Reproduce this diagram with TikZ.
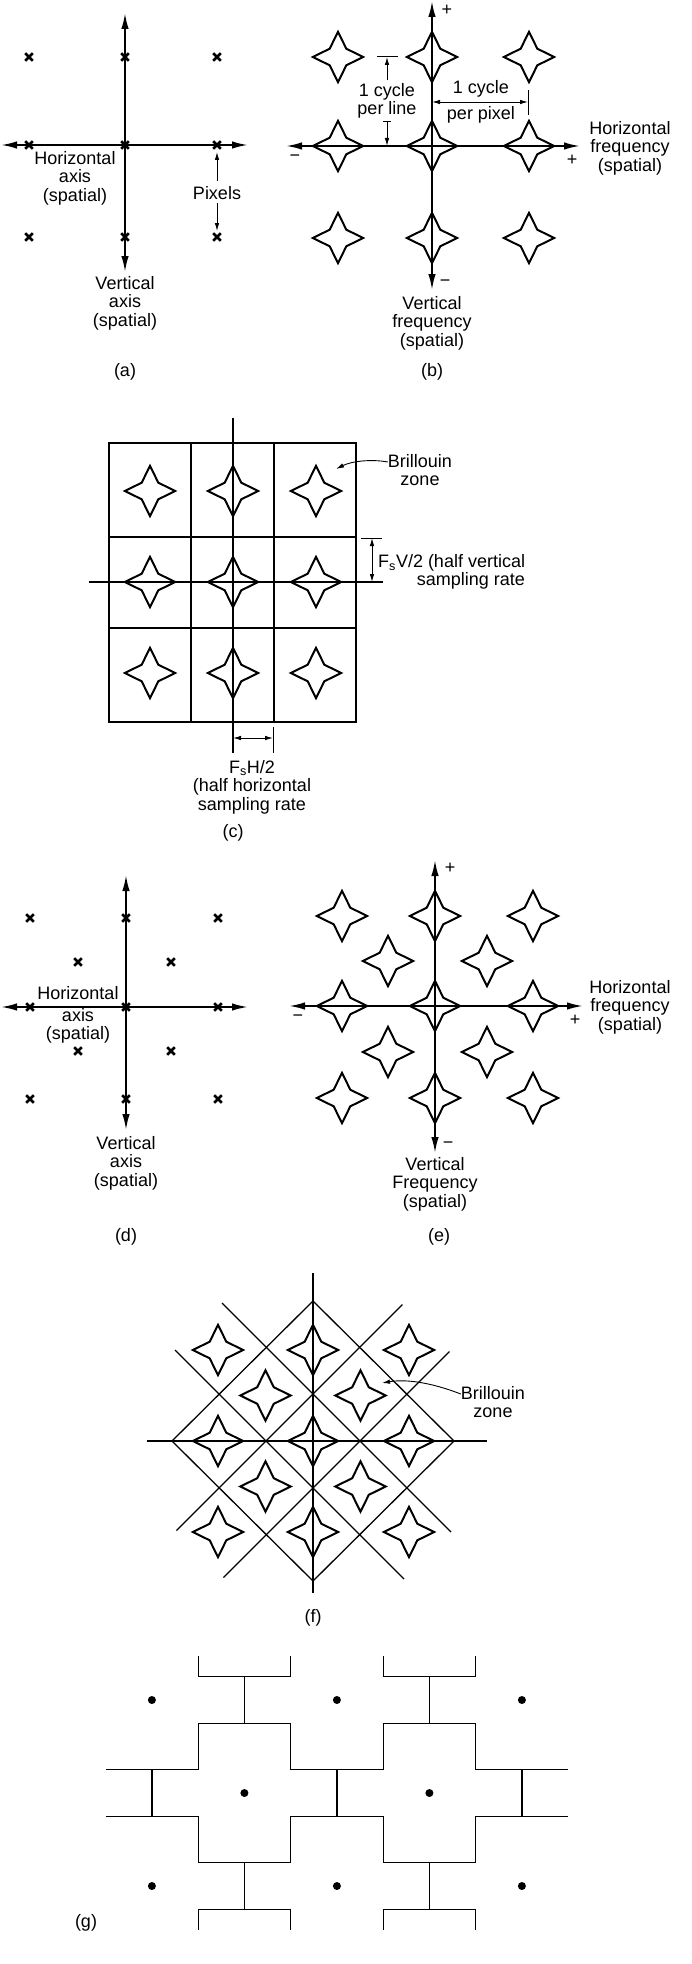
\documentclass[tikz,border=0pt]{standalone}
\usepackage{fontspec}
\setmainfont{Liberation Sans}
\usetikzlibrary{arrows.meta}
\begin{document}
\begin{tikzpicture}[x=1pt,y=-1pt,
  lbl/.style={font=\fontsize{18}{18.4}\selectfont, align=center, inner sep=0pt},
  axisl/.style={line width=1.9pt},
  both/.style={{Latex[length=16pt,width=7.5pt]}-{Latex[length=16pt,width=7.5pt]}},
  smallarr/.style={line width=0.9pt,-{Latex[length=8pt,width=4.5pt]}},
  smallboth/.style={line width=0.9pt,{Latex[length=8pt,width=4.5pt]}-{Latex[length=8pt,width=4.5pt]}},
  gridl/.style={line width=1.3pt},
  tick/.style={line width=1pt},
  starshape/.pic={\draw[line width=2pt, line join=miter, miter limit=10]
     (25.2,0) -- (8.3,8.3) -- (0,25.2) -- (-8.3,8.3) -- (-25.2,0) -- (-8.3,-8.3) -- (0,-25.2) -- (8.3,-8.3) -- cycle;},
  xmark/.pic={\draw[line width=2.6pt] (-3.8,-3.8) -- (3.8,3.8) (-3.8,3.8) -- (3.8,-3.8);}
]
\useasboundingbox (0,0) rectangle (691,1964);

% ---------------- (a)
\draw[axisl,both] (1,145) -- (248,145);
\draw[axisl,both] (125,13) -- (125,272);
\foreach \x in {29,125,217} \foreach \y in {57,145,237} \pic at (\x,\y) {xmark};
\node[lbl] (ha) at (75,178) {Horizontal\\axis\\(spatial)};
\node[lbl] (pix) at (217,193) {Pixels};
\coordinate (pixtop) at (217,152);
\coordinate (pixbot) at (217,231);
\draw[smallarr] ([yshift=5pt]pix.north) -- (pixtop);
\draw[smallarr] ([yshift=-3pt]pix.south) -- (pixbot);
\node[lbl] (va) at (125,303) {Vertical\\axis\\(spatial)};
\node[lbl] (la) at (125,372) {(a)};

% ---------------- (b)
\draw[axisl,both] (286,146) -- (580,146);
\draw[axisl,both] (432,1) -- (432,290);
\foreach \x in {338,432,529} \foreach \y in {57,146,238} \pic at (\x,\y) {starshape};
\node[lbl] (bpt) at (447,10) {+};
\node[lbl] (bmb) at (445,283) {−};
\node[lbl] (bml) at (295,158) {−};
\node[lbl] (bpr) at (572,160) {+};
\draw[tick] (377,57) -- (398,57);
\draw[tick] (383,122) -- (391,122);
\node[lbl] (cpl) at (387,101) {1 cycle\\per line};
\coordinate (cplt) at (387,57);
\coordinate (cplb) at (387,146);
\draw[smallarr] ([yshift=3pt]cpl.north) -- (cplt);
\draw[smallarr] (387,122) -- (cplb);
\draw[tick] (528,90) -- (528,115);
\coordinate (cppa) at (432,102);
\coordinate (cppb) at (528,102);
\draw[smallboth] (cppa) -- (cppb);
\node[lbl] (cpp1) at (481,89) {1 cycle};
\node[lbl] (cpp2) at (481,115) {per pixel};
\node[lbl] (hb) at (630,148) {Horizontal\\frequency\\(spatial)};
\node[lbl] (vb) at (432,323) {Vertical\\frequency\\(spatial)};
\node[lbl] (lb) at (432,372) {(b)};

% ---------------- (c)
\draw[gridl] (109,443) rectangle (356,722);
\draw[gridl] (191,443) -- (191,722) (274,443) -- (274,722) (109,537) -- (356,537) (109,628) -- (356,628);
\draw[axisl] (233,418) -- (233,753);
\draw[axisl] (89,582) -- (383,582);
\foreach \x in {150,233,316} \foreach \y in {491,582,673} \pic at (\x,\y) {starshape};
\node[lbl] (bz1) at (420,470) {Brillouin\\zone};
\draw[smallarr] ([yshift=8pt]bz1.west) .. controls (372,459) and (352,461) .. (336,469);
\draw[tick] (361,538) -- (382,538);
\coordinate (fva) at (372,538);
\coordinate (fvb) at (372,582);
\draw[smallboth] (fva) -- (fvb);
\node[lbl,anchor=west] (fv) at (378,563) {F\textsubscript{s}V/2 (half vertical};
\node[lbl] (fv2) at (471,581) {sampling rate};
\draw[tick] (273,727) -- (273,753);
\coordinate (fha) at (233,738);
\coordinate (fhb) at (273,738);
\draw[smallboth] (fha) -- (fhb);
\node[lbl] (fh) at (252,787) {F\textsubscript{s}H/2\\(half horizontal\\sampling rate};
\node[lbl] (lc) at (233,833) {(c)};

% ---------------- (d)
\draw[axisl,both] (1,1007) -- (248,1007);
\draw[axisl,both] (126,875) -- (126,1130);
\foreach \x in {30,126,218} \foreach \y in {918,1007,1099} \pic at (\x,\y) {xmark};
\foreach \x in {78,171} \foreach \y in {962,1051} \pic at (\x,\y) {xmark};
\node[lbl] (hd1) at (78,993) {Horizontal};
\node[lbl] (hd2) at (78,1026) {axis\\(spatial)};
\node[lbl] (vd) at (126,1163) {Vertical\\axis\\(spatial)};
\node[lbl] (ld) at (126,1237) {(d)};

% ---------------- (e)
\draw[axisl,both] (289,1006) -- (583,1006);
\draw[axisl,both] (435,860) -- (435,1153);
\foreach \x in {342,435,533} \foreach \y in {916,1006,1098} \pic at (\x,\y) {starshape};
\foreach \x in {388,487} \foreach \y in {961,1052} \pic at (\x,\y) {starshape};
\node[lbl] (ept) at (450,868) {+};
\node[lbl] (emb) at (448,1145) {−};
\node[lbl] (eml) at (298,1018) {−};
\node[lbl] (epr) at (575,1020) {+};
\node[lbl] (he) at (630,1007) {Horizontal\\frequency\\(spatial)};
\node[lbl] (ve) at (435,1184) {Vertical\\Frequency\\(spatial)};
\node[lbl] (le) at (439,1237) {(e)};

% ---------------- (f)
\draw[gridl] (313,1301) -- (454,1441) -- (313,1581) -- (172,1441) -- cycle;
\draw[gridl] (222,1303) -- (451,1532);
\draw[gridl] (175,1350) -- (404,1579);
\draw[gridl] (176.5,1530.5) -- (402.5,1304.5);
\draw[gridl] (223.5,1577.5) -- (449.5,1351.5);
\draw[axisl] (313,1273) -- (313,1593);
\draw[axisl] (147,1441) -- (487,1441);
\foreach \x in {218,313,409} \foreach \y in {1350,1441,1532} \pic at (\x,\y) {starshape};
\foreach \x in {265.5,360.5} \foreach \y in {1395.5,1486.5} \pic at (\x,\y) {starshape};
\node[lbl] (bz2) at (493,1402) {Brillouin\\zone};
\draw[smallarr] ([yshift=8pt]bz2.west) .. controls (430,1382) and (405,1379) .. (382,1383);
\node[lbl] (lf) at (313,1618) {(f)};

% ---------------- (g)
\begin{scope}[shift={(244.4,1793)}, x=46.25pt, y=23.25pt]
  \foreach \c in {0,4} {
    \foreach \s in {1,-1} {
      \begin{scope}[shift={(\c,0)}, yscale=\s]
        \draw[gridl] (-3,1) -- (-1,1) -- (-1,3) -- (1,3) -- (1,1) -- (3,1);
        \draw[gridl] (-1,5.9) -- (-1,5) -- (1,5) -- (1,5.9);
        \draw[gridl] (0,3) -- (0,5);
      \end{scope}
    }
  }
  \foreach \i in {-2,2,6} \draw[gridl] (\i,-1) -- (\i,1);
  \foreach \p in {(0,0),(4,0),(-2,4),(2,4),(6,4),(-2,-4),(2,-4),(6,-4)} \fill \p circle[radius=4pt];
\end{scope}
\node[lbl] (lg) at (86,1923) {(g)};
\end{tikzpicture}
\end{document}
